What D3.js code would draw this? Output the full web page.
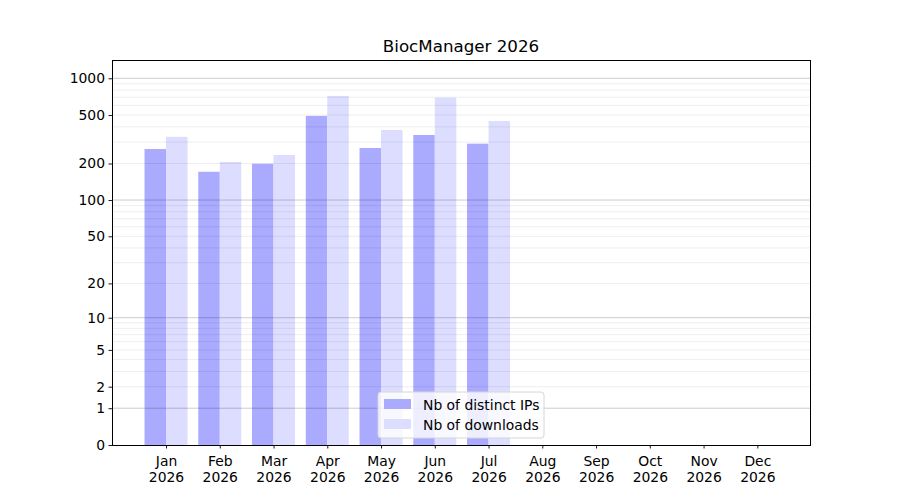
<!DOCTYPE html>
<html><head><meta charset="utf-8">
<script src="https://cdn.jsdelivr.net/npm/d3@7"></script>
<style>body{margin:0;background:#fff}text{font-family:"DejaVu Sans",sans-serif}</style>
</head><body><svg id="c" width="900" height="500"></svg>
<script>
const months = ["Jan","Feb","Mar","Apr","May","Jun","Jul","Aug","Sep","Oct","Nov","Dec"];
const year = "2026";
const distinctIPs = [263,171,199,492,268,343,291];
const downloads = [331,206,235,717,377,694,447];
const yTicks = [0,1,2,5,10,20,50,100,200,500,1000];
const majorGrid = [1,10,100,1000];
const minorGrid = [2,3,4,5,6,7,8,9,20,30,40,50,60,70,80,90,200,300,400,500,600,700,800,900];
const title = "BiocManager 2026";
const seriesNames = ["Nb of distinct IPs","Nb of downloads"];
const colors = ["#aaaaff","#ddddff"];

const svg = d3.select("#c");
const L=112,R=810,T=60,B=445;
const x = d3.scaleLinear().domain([-1.005,11.98]).range([L,R]);
const y = d3.scaleSymlog().constant(1).domain([0,1412]).range([B,T]);
const step = x(1)-x(0), bw = step*0.4;
const fs = "13.9px";

const g = svg.append("g");
g.selectAll(".ip").data(distinctIPs).join("rect")
 .attr("x",(d,i)=>x(i)-bw).attr("width",bw)
 .attr("y",d=>y(d)).attr("height",d=>B-y(d)).attr("fill",colors[0]);
g.selectAll(".dl").data(downloads).join("rect")
 .attr("x",(d,i)=>x(i)).attr("width",bw)
 .attr("y",d=>y(d)).attr("height",d=>B-y(d)).attr("fill",colors[1]);
g.selectAll(".mg").data(minorGrid).join("line")
 .attr("x1",L).attr("x2",R).attr("y1",d=>y(d)).attr("y2",d=>y(d))
 .attr("stroke","rgba(0,0,0,0.07)").attr("stroke-width",1);
g.selectAll(".Mg").data(majorGrid).join("line")
 .attr("x1",L).attr("x2",R).attr("y1",d=>y(d)).attr("y2",d=>y(d))
 .attr("stroke","rgba(0,0,0,0.2)").attr("stroke-width",1);

const ya = svg.append("g").attr("transform",`translate(${L},0)`)
 .call(d3.axisLeft(y).tickValues(yTicks).tickFormat(d3.format("d")).tickSize(3.5).tickPadding(3.5));
const xa = svg.append("g").attr("transform",`translate(0,${B})`)
 .call(d3.axisBottom(x).tickValues(d3.range(12)).tickFormat("").tickSize(3.5));
[ya,xa].forEach(a=>{a.select(".domain").remove();a.selectAll("line").attr("stroke","#000").attr("stroke-width",0.9);
 a.selectAll("text").attr("font-size",fs).attr("fill","#000").attr("font-family","DejaVu Sans");});
xa.selectAll(".tick").each(function(d){
 const t=d3.select(this);
 t.append("text").attr("y",21).attr("text-anchor","middle").attr("font-size",fs).attr("fill","#000").text(months[d]);
 t.append("text").attr("y",37).attr("text-anchor","middle").attr("font-size",fs).attr("fill","#000").text(year);
});
svg.append("rect").attr("x",L+0.5).attr("y",T+0.5).attr("width",R-L).attr("height",B-T)
 .attr("fill","none").attr("stroke","#000").attr("stroke-width",1).attr("shape-rendering","crispEdges");

svg.append("text").attr("x",(L+R)/2).attr("y",52).attr("text-anchor","middle")
 .attr("font-size","16.7px").attr("fill","#000").text(title);

const lg = svg.append("g").attr("transform","translate(378,392)");
lg.append("rect").attr("width",166).attr("height",46).attr("rx",3)
 .attr("fill","rgba(255,255,255,0.8)").attr("stroke","#d6d6d6");
seriesNames.forEach((n,i)=>{
 lg.append("rect").attr("x",6).attr("y",7+i*20).attr("width",27).attr("height",10).attr("fill",colors[i]);
 lg.append("text").attr("x",45).attr("y",17.5+i*20).attr("font-size",fs).attr("fill","#000").text(n);
});
</script></body></html>
